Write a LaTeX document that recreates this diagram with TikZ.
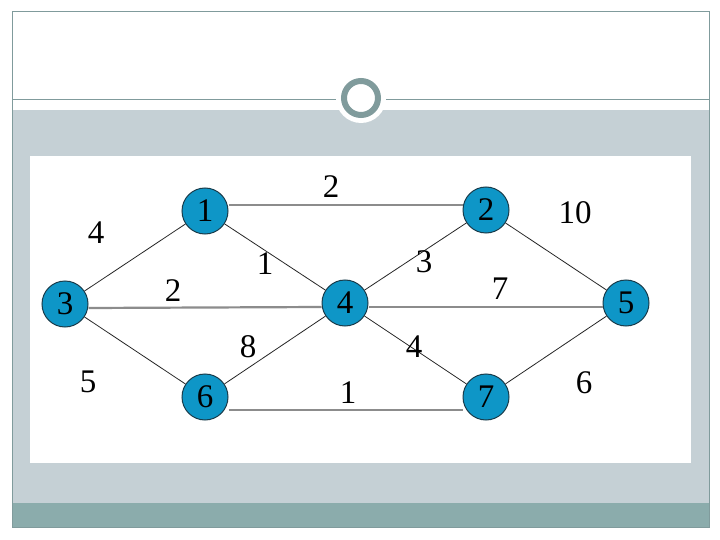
\documentclass[tikz,border=0pt]{standalone}
\usepackage{fontspec}
\setmainfont{Liberation Serif}
\definecolor{framec}{RGB}{128,155,156}
\definecolor{bandc}{RGB}{197,208,213}
\definecolor{footc}{RGB}{139,172,172}
\definecolor{vertc}{RGB}{14,150,199}
\definecolor{rimc}{RGB}{25,60,75}
\tikzset{
  vert/.style={circle, draw=rimc, line width=1pt, fill=vertc, minimum size=46pt,
    inner sep=0pt, font=\fontsize{33}{36}\selectfont},
  wt/.style={inner sep=0pt, font=\fontsize{33}{36}\selectfont},
  thin edge/.style={draw=black!85, line width=0.8pt},
  flat edge/.style={draw=black!45, line width=2.2pt}
}
\begin{document}
\begin{tikzpicture}[x=1pt,y=-1pt]
    \useasboundingbox (0,0) rectangle (720,540);

    % slide frame
    \fill[bandc] (12,110) rectangle (709,503); \fill[footc] (12,503) rectangle (709,527);
    \draw[framec, line width=1pt] (12,527) -- (12,12) -- (709,12) -- (709,527) -- cycle;
    \fill[white] (30,156) rectangle (691,463);
    \draw[framec, line width=1pt] (12,100) -- (709,100);
    \fill[white] (361,98) circle (25); \draw[framec, line width=6pt] (361,98) circle (17);

    \node[vert] (n1) at (205,211) {1}; \node[vert] (n2) at (486,210) {2};
    \node[vert] (n3) at (65,304) {3};  \node[vert] (n4) at (345,303) {4};
    \node[vert] (n5) at (626,303) {5}; \node[vert] (n6) at (205,397) {6};
    \node[vert] (n7) at (486,397) {7};

    \draw[flat edge] ([yshift=6pt]n1.east) -- ([yshift=5pt]n2.west);
    \draw[flat edge] ([yshift=-4pt]n3.east) -- ([yshift=-4pt]n4.west);
    \draw[flat edge] ([yshift=-4pt]n4.east) -- ([yshift=-4pt]n5.west);
    \draw[flat edge] ([yshift=-13pt]n6.east) -- ([yshift=-13pt]n7.west);
    \draw[thin edge] (n3) -- (n1); \draw[thin edge] (n1) -- (n4);
    \draw[thin edge] (n4) -- (n2); \draw[thin edge] (n2) -- (n5);
    \draw[thin edge] (n3) -- (n6); \draw[thin edge] (n6) -- (n4);
    \draw[thin edge] (n4) -- (n7); \draw[thin edge] (n7) -- (n5);

    \node[wt] (w12) at (331,187) {2}; \node[wt] (w25) at (575,213) {10};
    \node[wt] (w13) at (96,233) {4};  \node[wt] (w14) at (265,264) {1};
    \node[wt] (w24) at (424,262) {3}; \node[wt] (w34) at (173,291) {2};
    \node[wt] (w45) at (500,289) {7}; \node[wt] (w46) at (248,347) {8};
    \node[wt] (w47) at (414,347) {4}; \node[wt] (w36) at (88,382) {5};
    \node[wt] (w67) at (348,393) {1}; \node[wt] (w57) at (584,383) {6};
  \end{tikzpicture}
\end{document}
